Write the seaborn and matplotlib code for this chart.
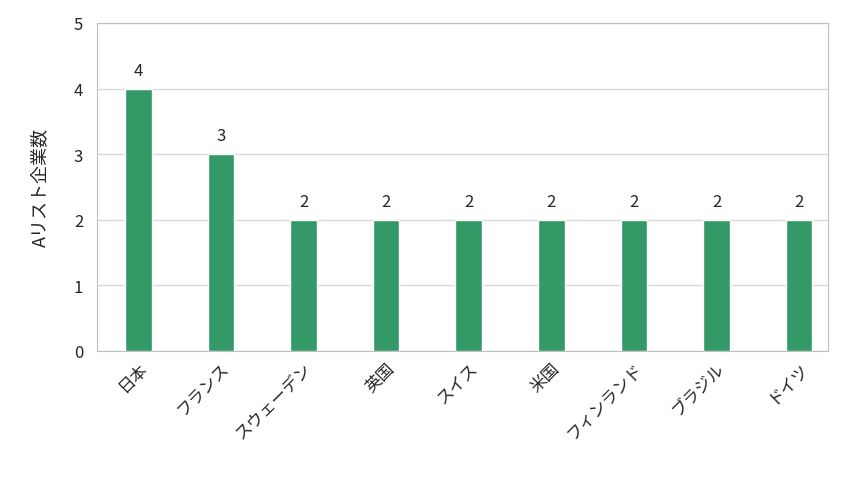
import matplotlib
matplotlib.use("Agg")
import matplotlib.pyplot as plt
import seaborn as sns
import pandas as pd

countries = ["日本", "フランス", "スウェーデン", "英国", "スイス", "米国", "フィンランド", "ブラジル", "ドイツ"]
counts = [4, 3, 2, 2, 2, 2, 2, 2, 2]

sns.set_style("white")
plt.rcParams['font.family'] = ['Noto Sans CJK JP', 'DejaVu Sans']

df = pd.DataFrame({"country": countries, "count": counts})

fig = plt.figure(figsize=(8.64, 4.81), dpi=100)
ax = fig.add_axes([97 / 864, 1 - 352 / 481, (828 - 97) / 864, (352 - 24) / 481])
sns.barplot(data=df, x="country", y="count", color="#339966", saturation=1, width=0.32, ax=ax, zorder=3)

ax.set_xlim(-0.5, 8.35)
ax.set_ylim(0, 5)
ax.set_yticks(range(6))
ax.yaxis.grid(True, color="#d9d9d9", linewidth=1, zorder=0)
for s in ax.spines.values():
    s.set_color("#bfbfbf")
ax.set_xlabel("")
ax.set_ylabel("Aリスト企業数", fontsize=13, labelpad=18)
ax.tick_params(axis="y", labelsize=12, length=0, pad=10)
ax.tick_params(axis="x", labelsize=12, length=0, pad=6)
plt.setp(ax.get_xticklabels(), rotation=45, ha="right", rotation_mode="anchor")
for p, v in zip(ax.patches, counts):
    ax.text(p.get_x() + p.get_width() / 2, v + 0.15, str(v), ha="center", va="bottom", fontsize=12)

fig.savefig("out.png", dpi=100)
